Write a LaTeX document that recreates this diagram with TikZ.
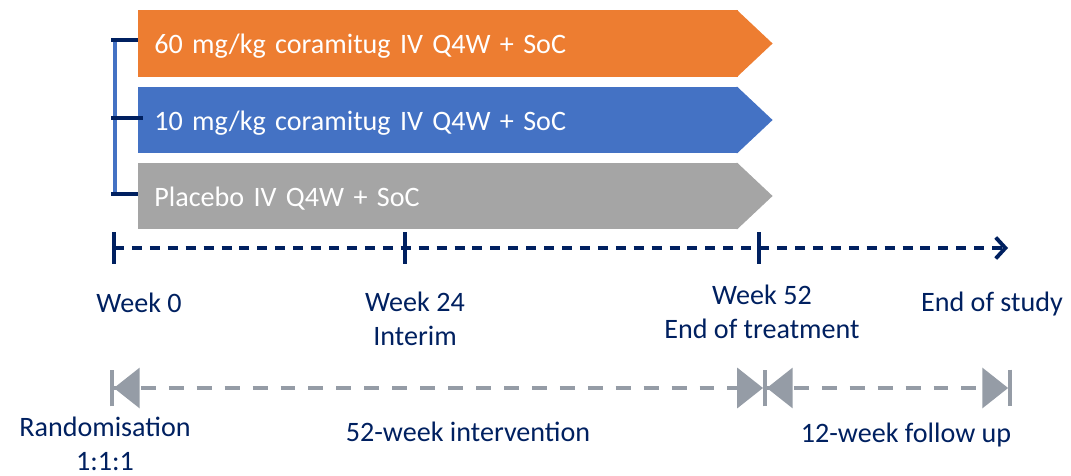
\documentclass[tikz,border=0pt]{standalone}
\usepackage{fontspec}
\setmainfont{Carlito}
\usetikzlibrary{arrows.meta}
\definecolor{armorange}{HTML}{ED7D31}
\definecolor{armblue}{HTML}{4472C4}
\definecolor{armgrey}{HTML}{A5A5A5}
\definecolor{navy}{HTML}{002060}
\definecolor{phasegrey}{HTML}{959CA6}

\begin{document}
\begin{tikzpicture}[x=0.02cm, y=-0.02cm,
  every node/.style={font=\fontsize{16}{19}\selectfont},
  arm/.style={anchor=west, minimum height=1.33cm, text width=11.36cm,
    inner xsep=0.32cm, inner ysep=0pt, align=left, text=white,
    text height=14.5pt, text depth=3pt},
  lbl/.style={text=navy, anchor=base, align=center, inner sep=0pt},
  spine/.style={armblue, line width=2.4pt},
  twig/.style={navy, line width=2.8pt},
  timeline/.style={navy, line width=2.2pt, dash pattern=on 5.7pt off 4.5pt,
    -{Straight Barb[length=5.5pt, width=12pt]}},
  tickmark/.style={navy, line width=2.2pt},
  phase/.style={phasegrey, line width=2.2pt, dash pattern=on 8.5pt off 7.4pt},
  ends/.style={{Bar[width=21pt, sep=0pt]Triangle[length=14.7pt, width=22.7pt]}-{Triangle[length=14.7pt, width=22.7pt]}},
  bothends/.style={{Bar[width=21pt, sep=0pt]Triangle[length=14.7pt, width=22.7pt]}-{Triangle[length=14.7pt, width=22.7pt, sep=0pt]Bar[width=21pt]}}]

  \useasboundingbox (0,0) rectangle (1071,476);

  %% treatment arms
  \node[arm, fill=armorange] (hi)  at (138,43.5) {60 mg/kg coramitug IV Q4W + SoC};
  \node[arm, fill=armblue]   (lo)  at (138,120)  {10 mg/kg coramitug IV Q4W + SoC};
  \node[arm, fill=armgrey]   (pbo) at (138,196)  {Placebo IV Q4W + SoC};
  \foreach \n/\c in {hi/armorange, lo/armblue, pbo/armgrey}
    \fill[\c] ([xshift=-1pt]\n.north east) -- ([xshift=0.68cm]\n.east)
      -- ([xshift=-1pt]\n.south east) -- cycle;

  %% randomisation bracket
  \coordinate (b-top) at (115,40);
  \coordinate (b-mid) at (115,118);
  \coordinate (b-bot) at (115,194);
  \draw[spine] (b-top) -- (b-bot);
  \draw[twig] ([xshift=-2pt]b-top) -- (hi.west |- b-top);
  \draw[twig] ([xshift=-2pt]b-mid) -- ([xshift=0.1cm]lo.west |- b-mid);
  \draw[twig] ([xshift=-2pt]b-bot) -- (pbo.west |- b-bot);

  %% time axis
  \coordinate (w0)   at (114,248);
  \coordinate (w24)  at (405,248);
  \coordinate (w52)  at (759,248);
  \coordinate (wend) at (1008,248);
  \draw[timeline] (w0) -- (wend);
  \foreach \c in {w0, w24, w52}
    \draw[tickmark] (\c) ++(0,-16) -- ++(0,32);

  \node[lbl] (t0)   at (139,312) {Week 0};
  \node[lbl] (t24)  at (415,345) {Week 24\\Interim};
  \node[lbl] (t52)  at (762,338) {Week 52\\End of treatment};
  \node[lbl] (tend) at (992,311) {End of study};

  %% study phases
  \coordinate (r0)   at (110,388);
  \coordinate (r52)  at (763,388);
  \coordinate (rend) at (1012,388);
  \draw[phase, ends] (r0) -- (r52);
  \draw[phase, bothends] (r52) -- (rend);

  \node[lbl] (rand) at (105,470) {Randomisation\\1:1:1};
  \node[lbl] (intv) at (468,441) {52-week intervention};
  \node[lbl] (fup)  at (906,442) {12-week follow up};
\end{tikzpicture}
\end{document}
